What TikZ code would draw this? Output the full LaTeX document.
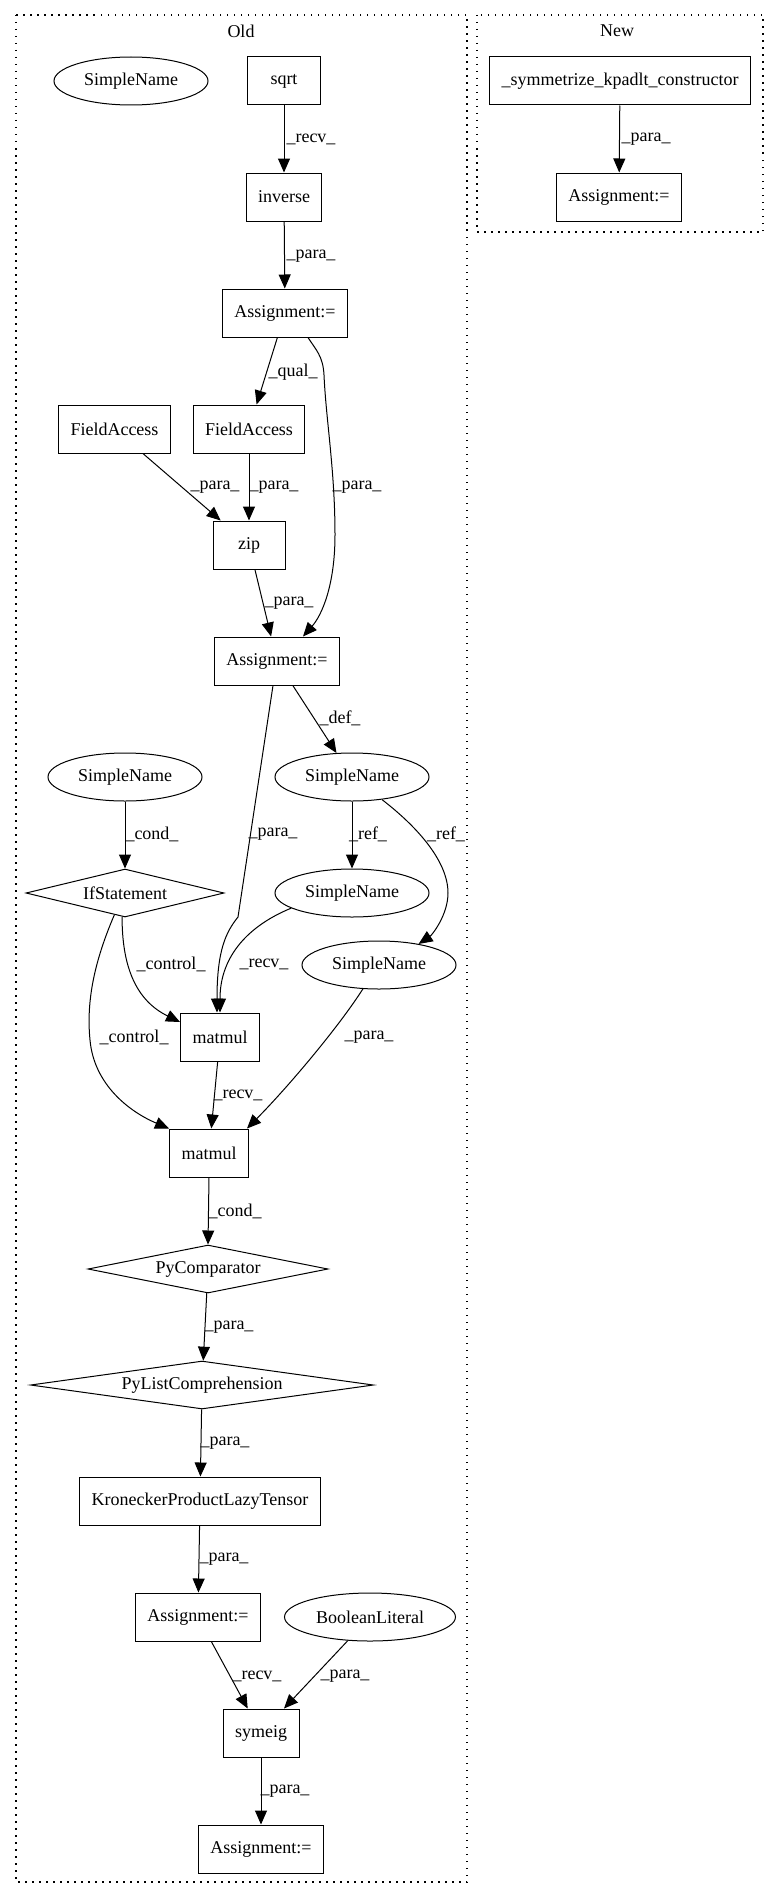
\documentclass[tikz,border=0pt]{standalone}
\usepackage{fontspec}
\setmainfont{Liberation Serif}
\usetikzlibrary{shapes.geometric,arrows.meta}
\begin{document}
\begin{tikzpicture}[x=1pt,y=-1pt,
  font=\fontsize{18}{21}\selectfont, line width=1pt,
  box/.style={draw, rectangle, minimum height=48pt, minimum width=72pt, inner xsep=12pt, inner ysep=0pt},
  ell/.style={draw, ellipse, inner sep=0pt, minimum height=48pt, minimum width=154pt},
  dia/.style={draw, diamond, aspect=4, inner sep=0pt, minimum height=48pt},
  edge/.style={-{Triangle[length=14pt,width=12pt]}},
  lbl/.style={inner sep=0pt},
  cluster/.style={draw, line width=1.3pt, dash pattern=on 1.5pt off 5.5pt}]
\useasboundingbox (0,0) rectangle (776,1900);
% clusters
\draw[cluster] (16,15) rectangle (467,1882);
\node[lbl] (oldlbl) at (241,31) {Old};
\draw[cluster] (477,15) rectangle (763,232);
\node[lbl] (newlbl) at (617,31) {New};
% Old nodes
\node[ell] (sn0) at (131,81) {SimpleName};
\node[box, minimum width=73pt] (sqrt) at (284,81) {sqrt};
\node[box] (inv) at (284,197) {inverse};
\node[box] (a1) at (285,313) {Assignment:=};
\node[box] (fa1) at (114.5,429) {FieldAccess};
\node[box] (fa2) at (249,429) {FieldAccess};
\node[box] (zip) at (249,545) {zip};
\node[box] (a2) at (277,661) {Assignment:=};
\node[ell] (snc) at (125,777) {SimpleName};
\node[ell] (snd) at (352,777) {SimpleName};
\node[dia, minimum width=198pt] (ifs) at (125,893) {\makebox[0pt]{IfStatement}};
\node[ell] (sr1) at (352,893) {SimpleName};
\node[ell] (sr2) at (379,965) {SimpleName};
\node[box] (mm1) at (220,1037) {matmul};
\node[box] (mm2) at (209,1153) {matmul};
\node[dia, minimum width=240pt] (pyc) at (208,1269) {\makebox[0pt]{PyComparator}};
\node[dia, minimum width=343pt] (pyl) at (202,1385) {\makebox[0pt]{PyListComprehension}};
\node[box] (kron) at (200,1501) {KroneckerProductLazyTensor};
\node[box] (a3) at (198,1617) {Assignment:=};
\node[ell, minimum width=171pt] (bool) at (370,1617) {BooleanLiteral};
\node[box] (sym) at (261,1733) {symeig};
\node[box] (a4) at (261,1849) {Assignment:=};
% New nodes
\node[box] (symk) at (620,81) {\_symmetrize\_kpadlt\_constructor};
\node[box] (na) at (619,197) {Assignment:=};
% edges
\draw[edge] (sqrt) -- (inv) node[lbl] at (311,139) {\_recv\_};
\draw[edge] (inv) -- (a1) node[lbl] at (311,256) {\_para\_};
\draw[edge] (a1) -- (fa2) node[lbl] at (293,372) {\_qual\_};
\draw[edge] ([xshift=23pt]a1.south) .. controls (316,350) and (323,356) .. (324,375)
   .. controls (326,420) and (335,470) .. (335,535)
   .. controls (335,585) and (322,615) .. ([xshift=26pt]a2.north)
   node[lbl] at (357,487) {\_para\_};
\draw[edge] (fa1) -- (zip) node[lbl] at (215,487) {\_para\_};
\draw[edge] (fa2) -- (zip) node[lbl] at (274,487) {\_para\_};
\draw[edge] (zip) -- (a2) node[lbl] at (289,603) {\_para\_};
\draw[edge] (a2) -- (snd) node[lbl] at (340,718) {\_def\_};
\draw[edge] ([xshift=-4pt]a2.south) -- (238,917) .. controls (226,932) and (217,950) .. ([xshift=-3pt]mm1.north)
   node[lbl] at (273,834) {\_para\_};
\draw[edge] (snc) -- (ifs) node[lbl] at (152,834) {\_cond\_};
\draw[edge] (snd.south) -- (sr1.north) node[lbl] at (368,834) {\_ref\_};
\draw[edge] (snd.323) .. controls (415,825) and (448,860) .. (448,893)
   .. controls (448,915) and (432,935) .. (sr2.28)
   node[lbl] at (446,834) {\_ref\_};
\draw[edge] (sr1.194) .. controls (250,925) and (220,955) .. (mm1.north)
   node[lbl] at (264,964) {\_recv\_};
\draw[edge] (ifs.263) .. controls (122,965) and (135,1000) .. ([yshift=15pt]mm1.west)
   node[lbl] at (171,964) {\_control\_};
\draw[edge] (ifs.244) .. controls (95,960) and (86,1000) .. (90,1040)
   .. controls (94,1085) and (130,1112) .. (mm2.north west)
   node[lbl] at (134,1037) {\_control\_};
\draw[edge] (sr2.236) .. controls (340,1025) and (290,1085) .. ([xshift=-2pt]mm2.north east)
   node[lbl] at (369,1037) {\_para\_};
\draw[edge] (mm1) -- (mm2) node[lbl] at (238,1095) {\_recv\_};
\draw[edge] (mm2.south) -- (pyc.north) node[lbl] at (235,1211) {\_cond\_};
\draw[edge] (pyc) -- (pyl) node[lbl] at (229,1327) {\_para\_};
\draw[edge] (pyl) -- (kron) node[lbl] at (225,1443) {\_para\_};
\draw[edge] (kron) -- (a3) node[lbl] at (224,1559) {\_para\_};
\draw[edge] (a3) -- (sym) node[lbl] at (257,1676) {\_recv\_};
\draw[edge] (bool) -- (sym) node[lbl] at (345,1676) {\_para\_};
\draw[edge] (sym) -- (a4) node[lbl] at (285,1791) {\_para\_};
\draw[edge] (symk) -- (na) node[lbl] at (646,139) {\_para\_};
\end{tikzpicture}
\end{document}
